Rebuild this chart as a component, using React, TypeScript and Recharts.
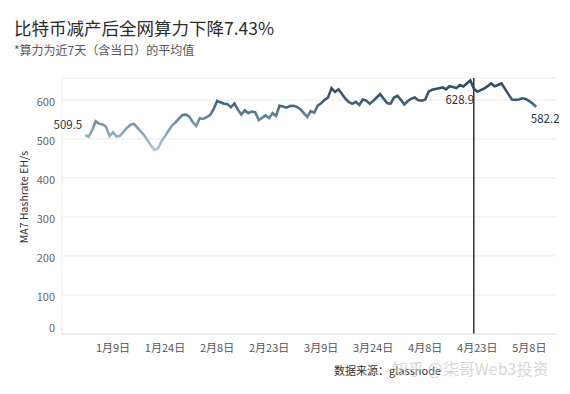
import React from "react";
import { LineChart, Line, XAxis, YAxis, CartesianGrid, ReferenceLine } from "recharts";

const FONT = '"Noto Sans CJK SC", "Noto Sans", sans-serif';

const monthLengths = [31, 29, 31, 30, 31];
const startMonth = 1;

const hashrate = [
  509.5, 506, 522, 545, 539, 537, 531, 507, 517, 506,
  508, 518, 528, 536, 539, 529, 519, 509, 496, 482,
  471, 476, 494, 507, 521, 534, 542, 552, 561, 562,
  557, 543, 533, 553, 551, 556, 561, 576, 597, 594,
  590, 589, 581, 591, 575, 562, 573, 566, 570, 568,
  548, 554, 560, 553, 566, 559, 585, 583, 580, 584,
  585, 582, 576, 566, 556, 571, 567, 585, 591, 600,
  606, 630, 620, 627, 615, 603, 594, 590, 595, 587,
  601, 598, 590, 597, 606, 615, 603, 592, 590, 606,
  610, 600, 588, 597, 603, 606, 599, 598, 601, 621,
  626, 628, 630, 632, 627, 635, 633, 630, 638, 634,
  642, 650, 628.9, 621, 625, 629, 635, 642, 635, 638,
  642, 628, 614, 601, 600, 601, 604, 602, 597, 590,
  582.2,
];

const xTickIdx = [8, 23, 38, 53, 68, 83, 98, 113, 128];
const yTicks = [0, 100, 200, 300, 400, 500, 600];
const halvingIdx = 112;
const labelIdx = [0, 112, 130];

// build date labels (2024: Jan 1 onwards)
const dateLabels: string[] = [];
{
  let m = 0;
  let d = 1;
  for (let i = 0; i < hashrate.length; i++) {
    dateLabels.push(`${m + startMonth}月${d}日`);
    d++;
    if (d > monthLengths[m]) {
      d = 1;
      m++;
    }
  }
}

const data = hashrate.map((v, i) => ({ idx: i, date: dateLabels[i], value: v }));

const renderLabel = (props: any) => {
  const { x, y, index, value } = props;
  if (!labelIdx.includes(index)) return null;
  let tx = x;
  let ty = y;
  let anchor: "start" | "middle" | "end" = "middle";
  if (index === 0) {
    tx = x - 3;
    ty = y - 11;
    anchor = "end";
  } else if (index === 112) {
    tx = x - 14;
    ty = y + 10;
  } else {
    tx = x + 9;
    ty = y + 11;
  }
  return (
    <text
      key={`lbl-${index}`}
      x={tx}
      y={ty}
      textAnchor={anchor}
      dominantBaseline="central"
      fontSize={11.5}
      fill="#333"
      fontFamily={FONT}
    >
      {value}
    </text>
  );
};

const YTick = (props: any) => {
  const { x, y, payload } = props;
  const dy = payload.value === 0 ? -7 : 1;
  return (
    <text
      x={x}
      y={y + dy}
      textAnchor="end"
      dominantBaseline="central"
      fontSize={11}
      fill="#666"
      fontFamily={FONT}
    >
      {payload.value}
    </text>
  );
};

export default function App() {
  return (
    <div
      style={{
        position: "absolute",
        left: 0,
        top: 0,
        width: 570,
        height: 394,
        background: "#fff",
        fontFamily: FONT,
        overflow: "hidden",
      }}
    >
      <div
        style={{
          position: "absolute",
          left: 14,
          top: 17,
          fontSize: 17.5,
          color: "#2b2b2b",
          whiteSpace: "nowrap",
          lineHeight: "22px",
        }}
      >
        比特币减产后全网算力下降7.43%
      </div>
      <div
        style={{
          position: "absolute",
          left: 14,
          top: 42,
          fontSize: 12,
          color: "#555",
          whiteSpace: "nowrap",
          lineHeight: "16px",
        }}
      >
        *算力为近7天（含当日）的平均值
      </div>
      <LineChart
        width={570}
        height={394}
        data={data}
        margin={{ top: 78, right: 14, left: 0, bottom: 0 }}
        style={{ position: "absolute", left: 0, top: 0 }}
      >
        <defs>
          <linearGradient id="lineGrad" x1="0" y1="0" x2="0" y2="1">
            <stop offset="0" stopColor="#2e4a62" />
            <stop offset="0.28" stopColor="#3d5b75" />
            <stop offset="0.5" stopColor="#5d7f98" />
            <stop offset="0.67" stopColor="#7b9db3" />
            <stop offset="0.84" stopColor="#95b5c8" />
            <stop offset="1" stopColor="#aec8d6" />
          </linearGradient>
        </defs>
        <CartesianGrid horizontal vertical={false} stroke="#ebebeb" />
        <XAxis
          dataKey="idx"
          type="number"
          domain={[-6.7, 135.7]}
          allowDataOverflow
          ticks={xTickIdx}
          tickFormatter={(i: number) => dateLabels[i]}
          interval={0}
          height={60}
          tickLine={false}
          tickSize={0}
          tickMargin={10}
          axisLine={{ stroke: "#e6e6e6" }}
          tick={{ fontSize: 11, fill: "#555", fontFamily: FONT }}
        />
        <YAxis
          type="number"
          domain={[0, 656]}
          ticks={yTicks}
          allowDataOverflow
          width={62}
          tickLine={false}
          tickSize={0}
          tickMargin={7}
          axisLine={{ stroke: "#ececec" }}
          tick={<YTick />}
          label={{
            value: "MA7 Hashrate EH/s",
            angle: -90,
            position: "insideLeft",
            offset: 0,
            dx: 24,
            dy: -9,
            style: { fontSize: 10.5, fill: "#333", fontFamily: FONT, textAnchor: "middle" },
          }}
        />
        <ReferenceLine x={halvingIdx} stroke="#333" strokeWidth={1.5} />
        <Line
          type="linear"
          dataKey="value"
          stroke="url(#lineGrad)"
          strokeWidth={2.6}
          dot={false}
          isAnimationActive={false}
          label={renderLabel}
        />
      </LineChart>
      <div
        style={{
          position: "absolute",
          left: 334,
          top: 362,
          fontSize: 11,
          color: "#333",
          whiteSpace: "nowrap",
          lineHeight: "16px",
        }}
      >
        数据来源：glassnode
      </div>
      <div
        style={{
          position: "absolute",
          left: 392,
          top: 358,
          fontSize: 16,
          color: "rgba(200,200,200,0.75)",
          whiteSpace: "nowrap",
          lineHeight: "20px",
        }}
      >
        知乎 @柒哥Web3投资
      </div>
    </div>
  );
}
